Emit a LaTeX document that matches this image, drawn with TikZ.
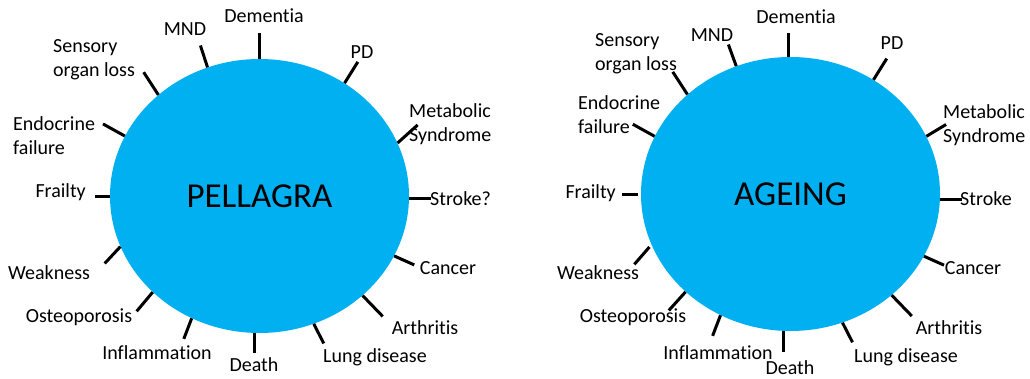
\documentclass[tikz,border=0pt]{standalone}
\usepackage{fontspec}
\setmainfont[RawFeature={-liga;-clig;-calt;-dlig}]{Carlito}
\usepackage{tikz}
\usetikzlibrary{shapes.geometric}
\definecolor{agblue}{RGB}{0,176,240}
\tikzset{
  agdisc/.style={ellipse, fill=agblue, minimum width=299pt, minimum height=274pt, inner sep=0pt, font=\fontsize{35}{40}\selectfont},
  agtick/.style={line width=3pt, draw=black},
  aglabel/.style={inner sep=0pt, align=left, font=\fontsize{20}{24}\selectfont}
}

\begin{document}
\begin{tikzpicture}[x=1pt, y=1pt]
  \useasboundingbox (0,0) rectangle (1030,378);
  % pellagra
  \node[agdisc] (pel) at (259.5,182) {PELLAGRA};
  \node[aglabel] (pdem) at (264,362) {Dementia};
  \node[aglabel] (pmnd) at (185,349) {MND};
  \node[aglabel, anchor=west] (psens) at (53,318.5) {Sensory\\organ loss};
  \node[aglabel, anchor=west] (pendo) at (13,242) {Endocrine\\failure};
  \node[aglabel, anchor=east] (pfrail) at (86,186) {Frailty};
  \node[aglabel] (pweak) at (49,105) {Weakness};
  \node[aglabel] (posteo) at (79,61) {Osteoporosis};
  \node[aglabel] (pinfl) at (157,25) {Inflammation};
  \node[aglabel] (pdeath) at (254,13) {Death};
  \node[aglabel] (plung) at (375,21) {Lung disease};
  \node[aglabel] (parth) at (425,50) {Arthritis};
  \node[aglabel] (pcanc) at (448,110) {Cancer};
  \node[aglabel, anchor=west] (pstroke) at (430,179) {Stroke?};
  \node[aglabel, anchor=west] (pmeta) at (409,254) {Metabolic\\Syndrome};
  \node[aglabel] (ppd) at (362,326) {PD};
  \draw[agtick] (pel.90) -- ++(90:26);
  \draw[agtick] (pel.112) -- ++(108:23);
  \draw[agtick] (pel.135) -- ++(123:27);
  \draw[agtick] (pel.156) -- ++(151:25);
  \draw[agtick] (pel.180) -- ++(180:15);
  \draw[agtick] (pel.200) -- ++(227:23);
  \draw[agtick] (pel.222) -- ++(230:25);
  \draw[agtick] (pel.241) -- ++(249:22);
  \draw[agtick] (pel.268) -- ++(270:20);
  \draw[agtick] (pel.293) -- ++(297:22);
  \draw[agtick] (pel.316) -- ++(314:29);
  \draw[agtick] (pel.336) -- ++(336:22);
  \draw[agtick] (pel.359) -- ++(0:22);
  \draw[agtick] (pel.21) -- ++(42:27);
  \draw[agtick] (pel.53) -- ++(58:25);
  % ageing
  \node[agdisc] (age) at (790.5,184) {AGEING};
  \node[aglabel] (adem) at (796,361) {Dementia};
  \node[aglabel] (amnd) at (712,343) {MND};
  \node[aglabel, anchor=west] (asens) at (595,324) {Sensory\\organ loss};
  \node[aglabel, anchor=west] (aendo) at (578,263.5) {Endocrine\\failure};
  \node[aglabel, anchor=east] (afrail) at (616,185) {Frailty};
  \node[aglabel] (aweak) at (598,105) {Weakness};
  \node[aglabel] (aosteo) at (633,61) {Osteoporosis};
  \node[aglabel] (ainfl) at (718,25) {Inflammation};
  \node[aglabel] (adeath) at (790,10) {Death};
  \node[aglabel] (alung) at (906,21) {Lung disease};
  \node[aglabel] (aarth) at (949,50) {Arthritis};
  \node[aglabel] (acanc) at (973,110) {Cancer};
  \node[aglabel, anchor=west] (astroke) at (960,179) {Stroke};
  \node[aglabel, anchor=west] (ameta) at (943,252.5) {Metabolic\\Syndrome};
  \node[aglabel] (apd) at (892,335) {PD};
  \draw[agtick] (age.91.5) -- ++(90:24);
  \draw[agtick] (age.113) -- ++(110:23);
  \draw[agtick] (age.136) -- ++(123:27);
  \draw[agtick] (age.157) -- ++(151:25);
  \draw[agtick] ([xshift=-3pt]age.180) -- ++(180:16);
  \draw[agtick] ([xshift=-3pt]age.201) -- ++(229:23);
  \draw[agtick] (age.223) -- ++(228:25);
  \draw[agtick] (age.240) -- ++(249:22);
  \draw[agtick] (age.267) -- ++(270:21);
  \draw[agtick] (age.292) -- ++(297:22);
  \draw[agtick] (age.315) -- ++(314:29);
  \draw[agtick] (age.335) -- ++(336:22);
  \draw[agtick] (age.358) -- ++(0:22);
  \draw[agtick] (age.23) -- ++(31:23);
  \draw[agtick] (age.54) -- ++(58:25);
\end{tikzpicture}
\end{document}
